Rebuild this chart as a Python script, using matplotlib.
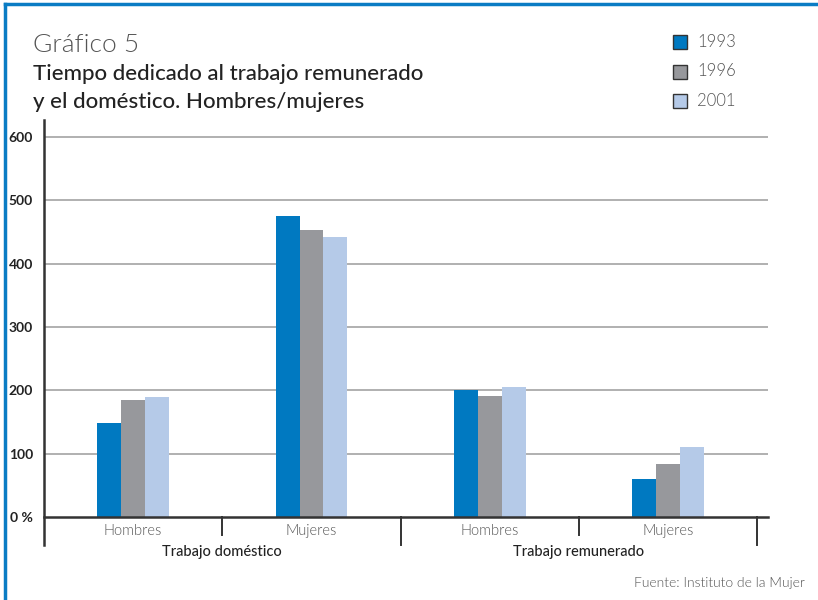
import matplotlib
matplotlib.use("Agg")
import matplotlib.pyplot as plt
import matplotlib.transforms as mtransforms
import numpy as np

plt.rcParams['font.family'] = ['Lato', 'DejaVu Sans']

categories = ["Hombres", "Mujeres", "Hombres", "Mujeres"]
groups = ["Trabajo doméstico", "Trabajo remunerado"]
years = ["1993", "1996", "2001"]
v1993 = [148, 476, 200, 60]
v1996 = [184, 453, 191, 83]
v2001 = [189, 442, 206, 110]
yticks = [0, 100, 200, 300, 400, 500, 600]
ytick_labels = ["0 %", "100", "200", "300", "400", "500", "600"]

colors = ["#0079C1", "#97989C", "#B5CAE8"]

W, H = 818, 600
fig = plt.figure(figsize=(W/100, H/100), dpi=100)

# blue frame (top & left)
fig.add_artist(plt.Line2D([5/W, 5/W], [0, 1-4/H], transform=fig.transFigure, color="#0A7CC4", lw=2.5))
fig.add_artist(plt.Line2D([5/W, 1], [1-4/H, 1-4/H], transform=fig.transFigure, color="#0A7CC4", lw=2.5))

ax_l, ax_r = 44/W, 768/W
ax_b, ax_t = 1-517/H, 1-120/H
ax = fig.add_axes([ax_l, ax_b, ax_r-ax_l, ax_t-ax_b])
ax.set_xlim(-0.5, 3.56)
ax.set_ylim(0, 627)

x = np.arange(len(categories))
bw = 0.134
for i, (vals, c, lab) in enumerate(zip([v1993, v1996, v2001], colors, years)):
    ax.bar(x + (i-1)*bw, vals, width=bw, color=c, label=lab, zorder=3, linewidth=0)

for t in yticks[1:]:
    ax.axhline(t, color="#B0B0B0", lw=1.4, zorder=1)

for s in ["top", "right", "left"]:
    ax.spines[s].set_visible(False)
ax.spines["bottom"].set_color("#333333")
ax.spines["bottom"].set_linewidth(1.8)
ax.spines["bottom"].set_zorder(4)

ax.set_yticks(yticks)
ax.set_yticklabels(ytick_labels, fontsize=10, color="#222222", fontweight="bold")
ax.tick_params(axis="y", length=0, pad=8)
ax.set_xticks([])

axh = 517-120
trans = mtransforms.blended_transform_factory(ax.transData, ax.transAxes)
# left spine extended
ax.plot([-0.5, -0.5], [-28/axh, 1], transform=trans, color="#333333", lw=1.8, clip_on=False, zorder=5)
for xs, ln in [(0.5, 18), (1.5, 28), (2.5, 18), (3.5, 28)]:
    ax.plot([xs, xs], [0, -ln/axh], transform=trans, color="#333333", lw=1.4, clip_on=False)

for xi, c in zip(x, categories):
    ax.text(xi, -14/axh, c, transform=trans, ha="center", va="center", fontsize=10.5, color="#555555", fontweight=300)
for gx, g in zip([0.5, 2.5], groups):
    ax.text(gx, -35/axh, g, transform=trans, ha="center", va="center", fontsize=10.5, color="#222222", fontweight="medium")

# titles
fig.text(33/W, 1-52/H, "Gráfico 5", fontsize=19, color="#555555", fontweight=300, ha="left", va="baseline")
fig.text(33/W, 1-80/H, "Tiempo dedicado al trabajo remunerado", fontsize=16, color="#222222", fontweight="medium", ha="left", va="baseline")
fig.text(33/W, 1-108/H, "y el doméstico. Hombres/mujeres", fontsize=16, color="#222222", fontweight="medium", ha="left", va="baseline")

# legend
for i, (c, lab) in enumerate(zip(colors, years)):
    yc = 42 + i*29.5
    fig.add_artist(plt.Rectangle((673/W, 1-(yc+7)/H), 14/W, 14/H, transform=fig.transFigure,
                                 facecolor=c, edgecolor="#333333", lw=1))
    fig.text(697/W, 1-yc/H, lab, fontsize=12, color="#555555", fontweight=300, ha="left", va="center")

fig.text(805/W, 1-583/H, "Fuente: Instituto de la Mujer", fontsize=10, color="#555555", fontweight=300, ha="right", va="center")

fig.savefig("out.png", dpi=100)
